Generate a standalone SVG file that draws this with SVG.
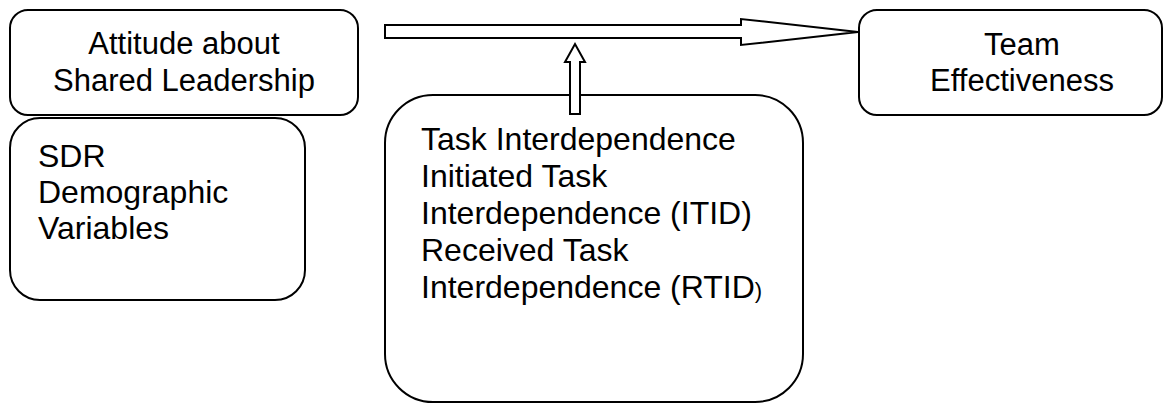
<svg xmlns="http://www.w3.org/2000/svg" width="1164" height="404" viewBox="0 0 1164 404">
<style>
.box{fill:#fff;stroke:#000;stroke-width:2}
.arr{fill:#fff;stroke:#000;stroke-width:2;stroke-linejoin:miter}
text{font-family:"Liberation Sans",Arial,sans-serif;font-size:31px;fill:#000}
.c{text-anchor:middle}
.l{font-size:32px}
</style>
<rect width="1164" height="404" fill="#fff"/>
<g id="node-attitude">
<rect class="box" x="10" y="10" width="348" height="105" rx="18" ry="18"/>
<text class="c" x="184" y="54">Attitude about</text>
<text class="c" x="184" y="91">Shared Leadership</text>
</g>
<g id="node-sdr">
<rect class="box" x="10" y="118" width="295" height="182" rx="30" ry="30"/>
<text class="l" x="38" y="167">SDR</text>
<text class="l" x="38" y="203">Demographic</text>
<text class="l" x="38" y="239">Variables</text>
</g>
<g id="node-task">
<rect class="box" x="385" y="95" width="418" height="307" rx="48" ry="48"/>
<text class="l" x="421" y="150">Task Interdependence</text>
<text class="l" x="421" y="187">Initiated Task</text>
<text class="l" x="421" y="224">Interdependence (ITID)</text>
<text class="l" x="421" y="261">Received Task</text>
<text class="l" x="421" y="298">Interdependence (RTID<tspan font-size="22">)</tspan></text>
</g>
<g id="node-team">
<rect class="box" x="859" y="10" width="303" height="105" rx="18" ry="18"/>
<text class="c" x="1022" y="55">Team</text>
<text class="c" x="1022" y="91">Effectiveness</text>
</g>
<g id="connectors">
<path class="arr" d="M385,25 L741,25 L741,19 L858,32 L741,45 L741,38 L385,38 Z"/>
<path class="arr" d="M570,114 L570,62 L565,62 L575,44 L585,62 L580,62 L580,114 Z"/>
</g>
</svg>
